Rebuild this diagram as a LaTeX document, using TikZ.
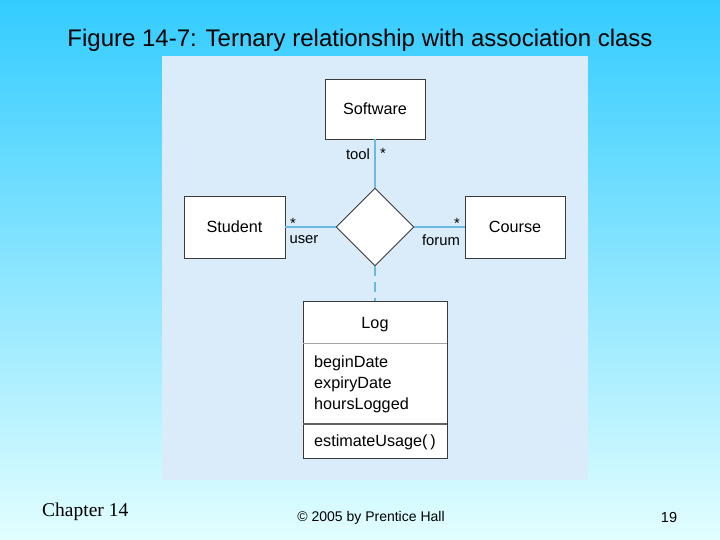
\documentclass[tikz,border=0pt]{standalone}
\usepackage{fontspec}
\setmainfont{Liberation Sans}
\newfontfamily\timesfont{Liberation Serif}
\usetikzlibrary{shapes.geometric}
\definecolor{bgtop}{HTML}{33CCFF}
\definecolor{bgbot}{HTML}{E2FEFF}
\definecolor{panel}{HTML}{DAEBF9}
\definecolor{conn}{HTML}{6CB9DF}
\definecolor{boxline}{HTML}{3A3A3A}
\tikzset{
  cls/.style={draw=boxline, fill=white, line width=0.9bp, minimum width=#1, inner sep=0pt},
  lbl/.style={font=\fontsize{14.8bp}{16bp}\selectfont, inner sep=0pt, yshift=-1bp},
  assoc/.style={draw=conn, line width=1.1bp},
  ctext/.style={font=\fontsize{16.2bp}{18bp}\selectfont, inner sep=0pt},
  ttext/.style={ctext, yshift=-1.5bp}
}
\begin{document}
\begin{tikzpicture}[x=1bp,y=-1bp]
\useasboundingbox (0,0) rectangle (720,540);
\shade[top color=bgtop, bottom color=bgbot] (0,0) rectangle (720,540);
\fill[panel] (162,56) rectangle (588,480);
\node[font=\fontsize{24bp}{26bp}\selectfont, inner sep=0pt] (title) at (360,40) {Figure 14-7: Ternary relationship with association class};
% classes
\node[cls=100bp, minimum height=60bp, ctext] (sw) at (375,109) {Software};
\node[cls=101bp, minimum height=62bp, ctext] (st) at (234.5,227) {Student};
\node[cls=100bp, minimum height=62bp, ctext] (co) at (515,227) {Course};
\node[diamond, draw=boxline, fill=white, line width=0.9bp, minimum width=78bp, minimum height=78bp, inner sep=0pt] (dm) at (375,227) {};
% log class
\draw[boxline, fill=white, line width=0.9bp] (303,301) rectangle (447,458);
\coordinate (logtop) at (375,301);
\draw[gray!70, line width=0.7bp] (303,343) -- (447,343);
\draw[boxline!80, line width=1.3bp] (303,424) -- (447,424);
\node[ttext] (lg) at (375,323) {Log};
\node[ttext, anchor=west] (a1) at (314,362) {beginDate};
\node[ttext, anchor=west] (a2) at (314,383) {expiryDate};
\node[ttext, anchor=west] (a3) at (314,404) {hoursLogged};
\node[ttext, anchor=west] (m1) at (314,441) {estimateUsage(\,)};
% connectors
\draw[assoc] (sw.south) -- (dm.north);
\draw[assoc] (st.east) -- (dm.west);
\draw[assoc] (dm.east) -- (co.west);
\draw[assoc, dash pattern=on 10bp off 6bp] (dm.south) -- (logtop);
% labels
\node[lbl] (ltool) at (358,153) {tool};
\node[lbl] (stool) at (383,152) {*};
\node[lbl] (suser) at (293,222) {*};
\node[lbl] (luser) at (304,239) {user};
\node[lbl] (sforum) at (457,222) {*};
\node[lbl] (lforum) at (441,239) {forum};
% footer
\node[font=\timesfont\fontsize{19.5bp}{21bp}\selectfont, anchor=west, inner sep=0pt] (ch) at (42,512) {Chapter 14};
\node[font=\fontsize{14bp}{16bp}\selectfont, inner sep=0pt] (cp) at (371,517.5) {© 2005 by Prentice Hall};
\node[font=\fontsize{14.5bp}{16bp}\selectfont, inner sep=0pt] (pg) at (669,517.5) {19};
\end{tikzpicture}
\end{document}
